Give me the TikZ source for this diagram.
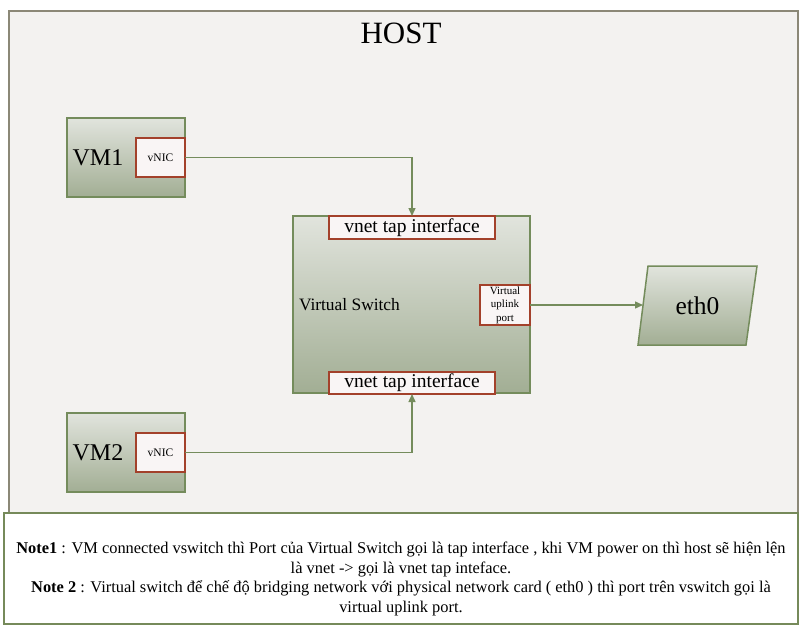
\documentclass[tikz,border=0pt]{standalone}
\usepackage{fontspec}
\setmainfont{Liberation Serif}
\usetikzlibrary{arrows.meta,shapes.geometric,shadings}
\definecolor{hostfill}{HTML}{F3F2F0}
\definecolor{hostline}{HTML}{8B8877}
\definecolor{grn}{HTML}{748C5C}
\definecolor{nicline}{HTML}{A3412B}
\definecolor{nicfill}{HTML}{F9F5F5}
\definecolor{shtop}{HTML}{E1E4DD}
\definecolor{shbot}{HTML}{A2AE94}
\definecolor{noteline}{HTML}{768A5A}
\tikzset{
  greenbox/.style={draw=grn, line width=1.5pt, top color=shtop, bottom color=shbot, outer sep=0pt, inner sep=0pt},
  nicbox/.style={draw=nicline, line width=1.8pt, fill=nicfill, outer sep=0pt, inner sep=0pt, align=center},
  conn/.style={draw=grn, line width=1.4pt, -{Triangle[length=8pt,width=7pt]}},
  txt/.style={inner sep=0pt, outer sep=0pt}
}
\begin{document}
\begin{tikzpicture}[x=1pt,y=-1pt]
\useasboundingbox (0,0) rectangle (808,627);
% host
\node[draw=hostline, line width=2pt, fill=hostfill, minimum width=789, minimum height=502, anchor=north west, inner sep=0pt] (host) at (8,10) {};
\node[txt, font=\fontsize{31}{34}\selectfont] (hostt) at (401,33) {HOST};
% note box
\node[draw=noteline, line width=2pt, fill=white, minimum width=794, minimum height=111, anchor=north west, inner sep=0pt] (note) at (3,512) {};
\node[txt, align=center, font=\fontsize{16.4}{19.4}\selectfont] (notet) at (401,579) {%
\textbf{Note1} : VM connected vswitch thì Port của Virtual Switch gọi là tap interface , khi VM power on thì host sẽ hiện lện\\
là vnet -> gọi là vnet tap inteface.\\
\textbf{Note 2} : Virtual switch để chế độ bridging network với physical network card ( eth0 ) thì port trên vswitch gọi là\\
virtual uplink port.};
% VM1
\node[greenbox, minimum width=118, minimum height=79, anchor=north west] (vm1) at (67,118) {};
\node[txt, font=\fontsize{24}{26}\selectfont] (vm1t) at (98,158) {VM1};
\node[nicbox, minimum width=49, minimum height=39, anchor=north west, font=\fontsize{11.5}{13}\selectfont] (nic1) at (136,138) {vNIC};
% VM2
\node[greenbox, minimum width=118, minimum height=79, anchor=north west] (vm2) at (67,413) {};
\node[txt, font=\fontsize{24}{26}\selectfont] (vm2t) at (98,453) {VM2};
\node[nicbox, minimum width=49, minimum height=39, anchor=north west, font=\fontsize{11.5}{13}\selectfont] (nic2) at (136,433) {vNIC};
% Virtual switch
\node[greenbox, minimum width=237, minimum height=177, anchor=north west] (vsw) at (293,216) {};
\node[txt, anchor=west, font=\fontsize{17.4}{19}\selectfont] (vswt) at (299,305) {Virtual Switch};
\node[nicbox, minimum width=166, minimum height=23, anchor=north west, font=\fontsize{19.5}{21}\selectfont] (tap1) at (329,216) {vnet tap interface};
\node[nicbox, minimum width=166, minimum height=22, anchor=north west, font=\fontsize{19.5}{21}\selectfont] (tap2) at (329,372) {vnet tap interface};
\node[nicbox, minimum width=50, minimum height=40, anchor=north west, font=\fontsize{11}{13.5}\selectfont] (uplink) at (480,285) {Virtual\\uplink\\port};
% eth0
\path[draw=grn, line width=1.5pt, top color=shtop, bottom color=shbot] (638,345) -- (648,266) -- (757,266) -- (746,345) -- cycle;
\node[txt, font=\fontsize{25.5}{28}\selectfont] (eth0) at (697.5,305.5) {eth0};
\coordinate (eth0in) at (643,305);
% connectors
\draw[conn] (nic1.east) -| (tap1.north);
\draw[conn] (nic2.east) -| (tap2.south);
\draw[conn] (uplink.east) -- (eth0in);
\end{tikzpicture}
\end{document}
